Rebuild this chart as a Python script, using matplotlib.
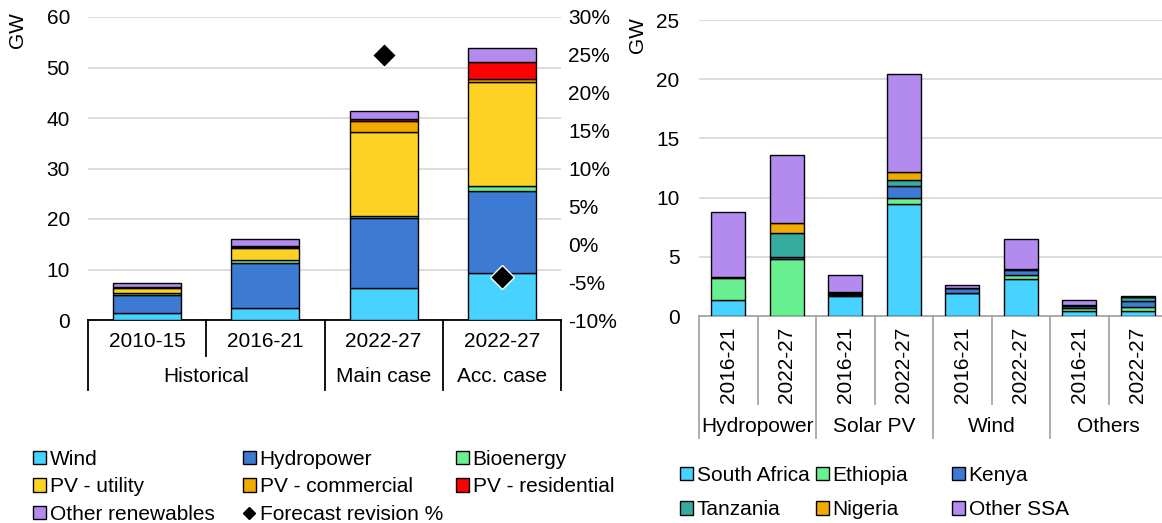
import numpy as np
import matplotlib.pyplot as plt
from matplotlib.patches import Patch
from matplotlib.lines import Line2D
from matplotlib.ticker import FuncFormatter

plt.rcParams["font.family"] = ["Liberation Sans", "DejaVu Sans"]
plt.rcParams["font.size"] = 15

# ---------- data: left chart ----------
left_periods = ["2010-15", "2016-21", "2022-27", "2022-27"]
left_groups = ["Historical", "Main case", "Acc. case"]
wind = [1.3, 2.45, 6.4, 9.4]
hydro = [3.6, 8.75, 13.7, 16.2]
bioenergy = [0.4, 0.7, 0.5, 1.0]
pv_utility = [1.1, 2.3, 16.6, 20.5]
pv_commercial = [0.1, 0.2, 2.3, 0.6]
pv_residential = [0.1, 0.2, 0.4, 3.3]
other_renew = [0.8, 1.5, 1.5, 2.8]
forecast_revision = [np.nan, np.nan, 25.0, -4.3]

# ---------- data: right chart ----------
right_periods = ["2016-21", "2022-27"] * 4
right_groups = ["Hydropower", "Solar PV", "Wind", "Others"]
south_africa = [1.35, 0.0, 1.65, 9.5, 1.95, 3.1, 0.4, 0.42]
ethiopia = [1.9, 4.85, 0.1, 0.5, 0.0, 0.35, 0.25, 0.3]
kenya = [0.05, 0.15, 0.15, 1.0, 0.4, 0.4, 0.2, 0.55]
tanzania = [0.0, 2.05, 0.05, 0.45, 0.0, 0.1, 0.05, 0.3]
nigeria = [0.0, 0.8, 0.05, 0.7, 0.0, 0.05, 0.05, 0.05]
other_ssa = [5.45, 5.75, 1.45, 8.3, 0.25, 2.5, 0.4, 0.1]

C_WIND = "#48D2FF"
C_HYDRO = "#3D7AD4"
C_BIO = "#68F090"
C_PVU = "#FDD225"
C_PVC = "#F2A900"
C_PVR = "#FF0000"
C_OTHER = "#B38AEE"
C_TANZ = "#35AC9F"
GRID = "#d9d9d9"

fig = plt.figure(figsize=(11.62, 5.23), dpi=100)

# ---------- left chart ----------
ax = fig.add_axes([88 / 1162, 1 - 320 / 523, 473 / 1162, 303 / 523])
x = np.arange(len(left_periods))
left_series = [
    ("Wind", wind, C_WIND),
    ("Hydropower", hydro, C_HYDRO),
    ("Bioenergy", bioenergy, C_BIO),
    ("PV - utility", pv_utility, C_PVU),
    ("PV - commercial", pv_commercial, C_PVC),
    ("PV - residential", pv_residential, C_PVR),
    ("Other renewables", other_renew, C_OTHER),
]
bottom = np.zeros(len(x))
for name, vals, col in left_series:
    ax.bar(x, vals, 0.575, bottom=bottom, color=col, edgecolor="black",
           linewidth=1, zorder=3)
    bottom += np.array(vals)

ax.set_xlim(-0.5, 3.5)
ax.set_ylim(0, 60)
ax.set_yticks(range(0, 61, 10))
ax.yaxis.grid(True, color=GRID, linewidth=1.3)
ax.set_axisbelow(True)
for s in ["left", "right", "top"]:
    ax.spines[s].set_visible(False)
ax.spines["bottom"].set_color("black")
ax.spines["bottom"].set_linewidth(1.3)
ax.tick_params(axis="y", length=0, pad=13)
ax.set_xticks([])

tr = ax.get_xaxis_transform()
for i, lab in enumerate(left_periods):
    ax.text(i, -0.0726, lab, transform=tr, ha="center", va="center")
for i, (gx, lab) in enumerate(zip([0.5, 2, 3], left_groups)):
    ax.text(gx, -0.188, lab, transform=tr, ha="center", va="center")
for sx in [-0.5, 0.5, 1.5, 2.5, 3.5]:
    y_end = -0.119 if sx == 0.5 else -0.231
    ax.add_line(Line2D([sx, sx], [0, y_end], transform=tr, color="black",
                       linewidth=1.3, clip_on=False))

ax2 = ax.twinx()
ax2.set_ylim(-10, 30)
ax2.set_yticks(range(-10, 31, 5))
ax2.yaxis.set_major_formatter(FuncFormatter(lambda v, p: f"{v:.0f}%"))
ax2.tick_params(axis="y", length=0, pad=5)
for s in ["left", "right", "top", "bottom"]:
    ax2.spines[s].set_visible(False)
ax2.plot(x, forecast_revision, linestyle="none", marker="D", markersize=12,
         color="black", markeredgecolor="white", markeredgewidth=1, zorder=5)

fig.text(18 / 1162, 1 - 30 / 523, "GW", rotation=90, ha="center", va="center")

# ---------- right chart ----------
axr = fig.add_axes([699 / 1162, 1 - 316 / 523, 468 / 1162, 296 / 523])
xr = np.arange(len(right_periods))
right_series = [
    ("South Africa", south_africa, C_WIND),
    ("Ethiopia", ethiopia, C_BIO),
    ("Kenya", kenya, C_HYDRO),
    ("Tanzania", tanzania, C_TANZ),
    ("Nigeria", nigeria, C_PVC),
    ("Other SSA", other_ssa, C_OTHER),
]
bottom = np.zeros(len(xr))
for name, vals, col in right_series:
    axr.bar(xr, vals, 0.58, bottom=bottom, color=col, edgecolor="black",
            linewidth=1, zorder=3)
    bottom += np.array(vals)

axr.set_xlim(-0.5, 7.5)
axr.set_ylim(0, 25)
axr.set_yticks(range(0, 26, 5))
axr.yaxis.grid(True, color=GRID, linewidth=1.3)
axr.set_axisbelow(True)
for s in ["left", "right", "top"]:
    axr.spines[s].set_visible(False)
axr.spines["bottom"].set_color("#a6a6a6")
axr.spines["bottom"].set_linewidth(1.3)
axr.tick_params(axis="y", length=0, pad=14)
axr.set_xticks([])

trr = axr.get_xaxis_transform()
for i, lab in enumerate(right_periods):
    axr.text(i, -0.166, lab, transform=trr, rotation=90, ha="center", va="center")
for g, lab in enumerate(right_groups):
    axr.text(2 * g + 0.5, -0.372, lab, transform=trr, ha="center", va="center")
for sx in np.arange(-0.5, 8, 1.0):
    y_end = -0.412 if (sx + 0.5) % 2 == 0 else -0.297
    axr.add_line(Line2D([sx, sx], [0, y_end], transform=trr, color="#a6a6a6",
                        linewidth=1.3, clip_on=False))

fig.text(638 / 1162, 1 - 35 / 523, "GW", rotation=90, ha="center", va="center")

# ---------- legends ----------
def sq(col):
    return Patch(facecolor=col, edgecolor="black", linewidth=1)

leg_kw = dict(frameon=False, loc="upper left", borderpad=0, borderaxespad=0,
              handlelength=0.6, handleheight=0.6, handletextpad=0.2)

left_cols = [
    (33, [("Wind", sq(C_WIND)), ("PV - utility", sq(C_PVU)),
          ("Other renewables", sq(C_OTHER))]),
    (243, [("Hydropower", sq(C_HYDRO)), ("PV - commercial", sq(C_PVC)),
           ("Forecast revision %", Line2D([], [], linestyle="none", marker="D",
                                           markersize=6, color="black"))]),
    (456, [("Bioenergy", sq(C_BIO)), ("PV - residential", sq(C_PVR))]),
]
for px, items in left_cols:
    fig.legend([h for _, h in items], [l for l, _ in items],
               bbox_to_anchor=(px / 1162, 1 - 450 / 523), labelspacing=0.4,
               **leg_kw)

right_cols = [
    (680, [("South Africa", sq(C_WIND)), ("Tanzania", sq(C_TANZ))]),
    (816, [("Ethiopia", sq(C_BIO)), ("Nigeria", sq(C_PVC))]),
    (952, [("Kenya", sq(C_HYDRO)), ("Other SSA", sq(C_OTHER))]),
]
for px, items in right_cols:
    fig.legend([h for _, h in items], [l for l, _ in items],
               bbox_to_anchor=(px / 1162, 1 - 466 / 523), labelspacing=0.74,
               **leg_kw)

fig.savefig("out.png", dpi=100)
